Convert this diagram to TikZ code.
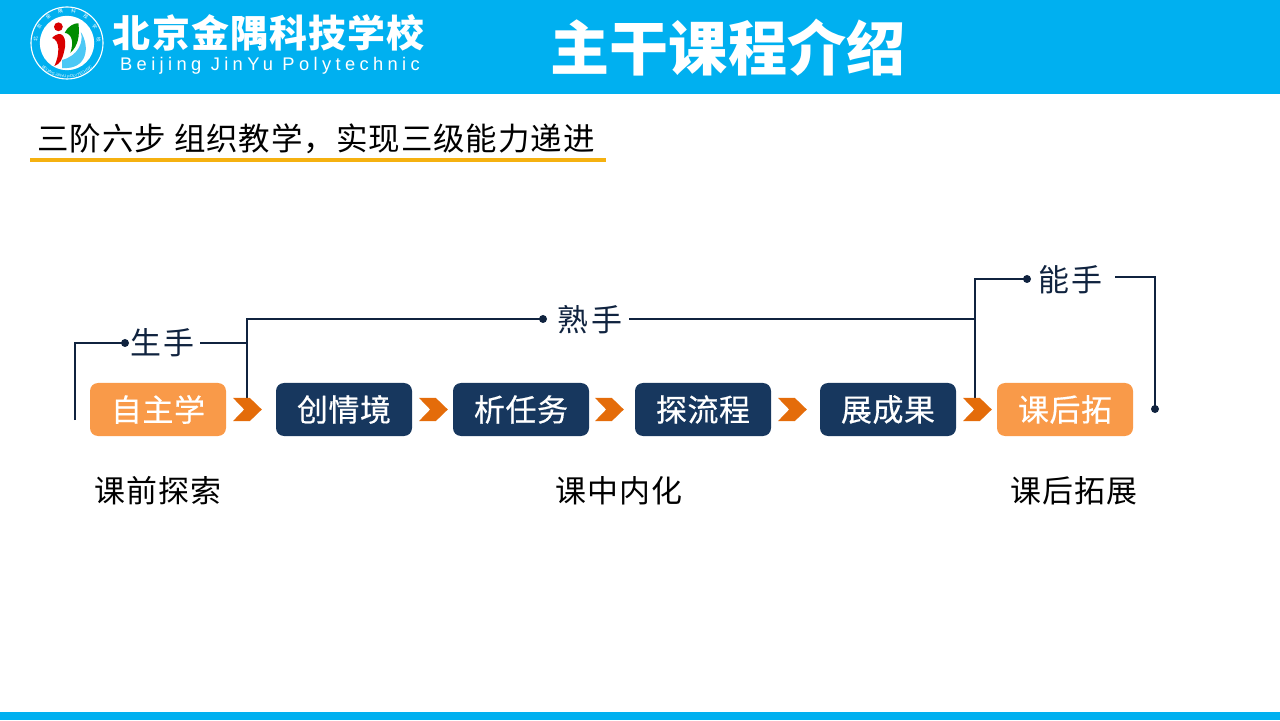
\documentclass[tikz,border=0pt]{standalone}
\usepackage{fontspec}
\setmainfont{Noto Sans CJK SC}
\newfontfamily\latinfont{Liberation Sans}
\usetikzlibrary{decorations.text}

\definecolor{bandblue}{HTML}{00B0F0}
\definecolor{boxnavy}{HTML}{17375E}
\definecolor{boxorange}{HTML}{F99A49}
\definecolor{tiporange}{HTML}{E46C0A}
\definecolor{linenavy}{HTML}{10233F}
\definecolor{rulegold}{HTML}{F5B110}

\tikzset{
    stepbox/.style={rounded corners=0.2cm, minimum width=3.4cm, minimum height=1.325cm,
        inner sep=0, text=white, font=\fontsize{22}{26}\selectfont\addfontfeature{LetterSpace=2,FakeBold=0.5}},
    orangebox/.style={stepbox, fill=boxorange},
    navybox/.style={stepbox, fill=boxnavy},
    hand/.style={inner sep=0, text=linenavy, font=\fontsize{22}{26}\selectfont\addfontfeature{LetterSpace=7}},
    stage/.style={inner sep=0, text=black, font=\fontsize{22}{26}\selectfont\addfontfeature{LetterSpace=4}},
    link/.style={draw=linenavy, line width=1.6pt},
}

\begin{document}
\begin{tikzpicture}
    \useasboundingbox (0,0) rectangle (32,18);

    % bands
    \fill[bandblue] (0,15.65) rectangle (32,18);
    \fill[bandblue] (0,0) rectangle (32,0.2);

    % logo
    \draw[white, line width=0.8pt] (1.675,16.925) circle (0.9);
    \fill[white] (1.675,16.925) circle (0.68);
    \fill[bandblue!70] (1.55,16.5) .. controls (1.95,16.6) and (2.1,16.95) .. (2.02,17.2)
        .. controls (2.25,16.85) and (2.2,16.25) .. (1.55,16.3) -- cycle;
    \fill[red!85!black] (1.3,17.05) .. controls (1.55,17.3) and (1.7,17.05) .. (1.6,16.7)
        .. controls (1.55,16.5) and (1.5,16.4) .. (1.36,16.35)
        .. controls (1.5,16.65) and (1.5,17.0) .. cycle;
    \fill[red!85!black] (1.46,17.33) circle (0.11);
    \fill[green!55!black] (1.62,17.18) .. controls (1.7,17.35) and (1.85,17.42) .. (1.96,17.42)
        .. controls (2.0,17.1) and (1.95,16.85) .. (1.76,16.68)
        .. controls (1.85,16.95) and (1.8,17.15) .. cycle;
    \path[decorate, decoration={text along path, text align={fit to path},
        text={|\fontsize{3.4}{4}\selectfont\color{white}|北京金隅科技学校}}]
        (0.93,16.95) arc (180:0:0.745);
    \path[decorate, decoration={text along path, text align=center,
        text={|\latinfont\fontsize{2.8}{3}\selectfont\color{white}|BEIJING JINYU POLYTECHNIC}}]
        (0.8,16.925) arc (180:360:0.875);

    % header texts
    \node[inner sep=0, text=white, font=\fontsize{27}{30}\selectfont\bfseries\addfontfeature{LetterSpace=3}] (school) at (6.72,17.19) {北京金隅科技学校};
    \node[inner sep=0, text=white, font=\latinfont\fontsize{13}{15}\selectfont\addfontfeature{LetterSpace=24}] (schoolen) at (6.75,16.35) {Beijing JinYu Polytechnic};
    \node[inner sep=0, text=white, font=\fontsize{42}{46}\selectfont\bfseries] (title) at (18.2,16.82) {主干课程介绍};

    % heading
    \node[inner sep=0, text=black, font=\fontsize{22.4}{26}\selectfont\addfontfeature{LetterSpace=3}] (heading) at (7.9,14.52) {三阶六步 组织教学，实现三级能力递进};
    \fill[rulegold] (0.75,13.94) rectangle (15.15,14.04);

    % steps
    \node[orangebox] (zizhu) at (3.95,7.7625) {自主学};
    \node[navybox] (chuang) at (8.6,7.7625) {创情境};
    \node[navybox] (xi) at (13.025,7.7625) {析任务};
    \node[navybox] (tan) at (17.575,7.7625) {探流程};
    \node[navybox] (zhan) at (22.2,7.7625) {展成果};
    \node[orangebox] (kehou) at (26.625,7.7625) {课后拓};

    % hands and stages
    \node[hand] (sheng) at (4.07,9.42) {生手};
    \node[hand] (shu) at (14.75,10) {熟手};
    \node[hand] (neng) at (26.77,11) {能手};
    \node[stage] (qian) at (3.95,5.74) {课前探索};
    \node[stage] (zhong) at (15.48,5.74) {课中内化};
    \node[stage] (hou) at (26.85,5.74) {课后拓展};

    % ends of the lines
    \coordinate (a0) at (1.875,7.5);
    \coordinate (a1) at (3.125,9.425);
    \coordinate (a2) at (5,9.425);
    \coordinate (a3) at (6.175,9.425);
    \coordinate (b0) at (6.175,8.05);
    \coordinate (b1) at (13.575,10.025);
    \coordinate (b2) at (15.725,10.025);
    \coordinate (b3) at (24.375,10.025);
    \coordinate (c0) at (24.375,8.05);
    \coordinate (c1) at (25.675,11.025);
    \coordinate (c2) at (27.875,11.075);
    \coordinate (c3) at (28.875,7.775);

    \draw[link] (a0) |- (a1);
    \draw[link] (a2) -- (a3);
    \draw[link] (b0) |- (b1);
    \draw[link] (b2) -- (b3);
    \draw[link] (c0) |- (c1);
    \draw[link] (c2) -| (c3);
    \fill[linenavy] (a1) circle (0.1);
    \fill[linenavy] (b1) circle (0.1);
    \fill[linenavy] (c1) circle (0.1);
    \fill[linenavy] (c3) circle (0.1);

    % chevrons
    \foreach \x in {5.825,10.475,14.875,19.45,24.075}
        \fill[tiporange, shift={(\x,7.7625)}] (0,0.29) -- (0.42,0.29) -- (0.72,0) -- (0.42,-0.29) -- (0,-0.29) -- (0.28,0) -- cycle;
\end{tikzpicture}
\end{document}
